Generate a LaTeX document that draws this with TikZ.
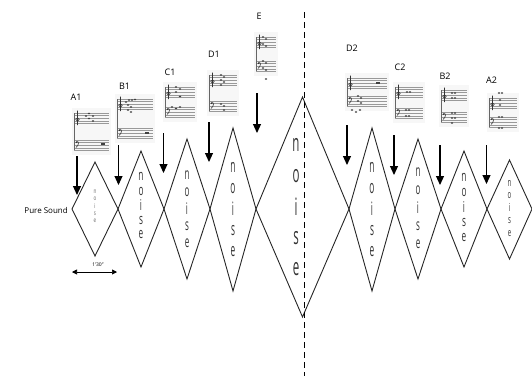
\documentclass[tikz,border=0pt]{standalone}
\usepackage{fontspec}
\usepackage{graphicx}
\setmainfont{Open Sans}
\usetikzlibrary{arrows.meta}

\tikzset{
  flow/.style={-{Triangle[length=9pt,width=8pt]}, line width=1.1pt},
  lab/.style={font=\fontsize{9}{9}\selectfont, inner sep=0pt},
  shell/.style={line width=0.9pt, black!85, line join=miter},
  divide/.style={dash pattern=on 6pt off 4pt, line width=0.8pt},
  staffline/.style={black!40, line width=0.35pt},
  notehead/.style={fill=black!75},
}

% five stacked letters inside a diamond: x, first y, step, size, xscale, colour
\newcommand{\noisecol}[6]{%
  \foreach \ch [count=\k from 0] in {n,o,i,s,e}
    \node[inner sep=0pt, text=#6] at (#1,#2+#3*\k)
      {\raisebox{0pt}[0.7\height][0pt]{\scalebox{#5}[1]{\fontsize{#4}{#4}\selectfont\ch}}};
}

% small grand staff: left x, treble top, bass top, width, note heads
\newcommand{\grandstaff}[5]{%
  \fill[black!3] (#1-2,#2-5) rectangle (#1+#4+2,#3+15);
  \foreach \k in {0,...,4} {
    \draw[staffline] (#1,#2+2.6*\k) -- (#1+#4,#2+2.6*\k);
    \draw[staffline] (#1,#3+2.6*\k) -- (#1+#4,#3+2.6*\k);
  }
  \draw[black!60, line width=0.5pt] (#1,#2) -- (#1,#3+10.4);
  \draw[black!80, line width=0.6pt] (#1+3.5,#2-2.5) -- (#1+3.5,#2+12)
    (#1+3.5,#2+6.5) circle (1.8);
  \draw[black!80, line width=0.6pt] (#1+2.2,#3+2) .. controls (#1+5,#3) and (#1+5.5,#3+5) .. (#1+2,#3+7.5);
  \fill[black!80] (#1+2.5,#3+2.2) circle (0.8);
  \foreach \nx/\ny in {#5}
    \fill[notehead] (\nx,\ny) ellipse (1.3 and 0.9);
}

\begin{document}
\begin{tikzpicture}[x=1pt, y=-1pt]
    \useasboundingbox (0,0) rectangle (532,376);

    % Diamonds
    \foreach \cx/\hw/\up/\dn in {95/23/47/47, 141/23/58/58, 187/23/70/70, 233/23/81/82,
        302.5/46.5/112/108, 372/23/81/82, 418/23/70/70, 464/23/58/58, 509.5/22.5/49/50}
      \draw[shell] (\cx-\hw,209) -- (\cx,209-\up) -- (\cx+\hw,209) -- (\cx,209+\dn) -- cycle;

    % Noise letters
    \noisecol{95}{192}{7.3}{6.5}{0.7}{black!60}
    \noisecol{141}{178}{14.5}{15}{0.55}{black!80}
    \noisecol{187}{176}{17}{16}{0.5}{black!80}
    \noisecol{233}{169}{21}{18.5}{0.45}{black!80}
    \noisecol{296}{147}{31}{24}{0.48}{black!80}
    \noisecol{372}{169}{21}{18.5}{0.45}{black!80}
    \noisecol{418}{173}{18}{16}{0.5}{black!80}
    \noisecol{464}{179}{15}{15}{0.55}{black!80}
    \noisecol{509.5}{184}{12.5}{11}{0.55}{black!80}

    % Middle cut
    \coordinate (cut top) at (304,12);
    \coordinate (cut bot) at (304,376);
    \draw[divide] (cut top) -- (cut bot);

    % Scores
    \grandstaff{74}{113}{140}{35}{86/116, 89/113.5, 89/118.5, 93/116, 93/121}
    \grandstaff{117}{99}{128}{36}{126/102, 129/100, 132/100, 135/99.5, 128/105, 131/107, 128/110, 131/112}
    \grandstaff{165}{87}{107}{30}{176/87, 180/89, 176/92, 180/96.5, 172/107, 176/108.5, 180/107}
    \grandstaff{209}{75}{101}{28}{221/75, 224/77, 221/80, 224/82, 221/85, 221/104, 224/106, 224/110}
    \grandstaff{256}{37}{61}{20}{263/37, 266/39, 263/44, 266/46, 263/61, 266/63, 263/68, 266/70, 266/79}
    \grandstaff{347}{78}{96}{40}{358/96, 361/98, 358/101, 361/103, 352/110, 356/112, 360/110}
    \grandstaff{395}{87}{108}{28}{407/92, 410/92, 406/110, 409/110, 406/116, 409/116}
    \grandstaff{441}{90}{112}{26}{452/93, 455/93, 452/98, 455/98, 452/113, 455/113, 452/118, 455/118, 452/123}
    \grandstaff{489}{98}{117}{28}{499/93, 502/93, 500/100, 500/105, 499/117, 502/117, 499/128, 502/128}
    % rests
    \draw[line width=1.2pt, black!75] (101,144) -- (105,144) (145,133) -- (149,133) (376,83) -- (380,83);

    % Labels
    \node[lab] (lA1) at (76,97) {A1};
    \node[lab] (lB1) at (124.5,86) {B1};
    \node[lab] (lC1) at (170,72) {C1};
    \node[lab] (lD1) at (214,54.5) {D1};
    \node[lab] (lE) at (259,16.5) {E};
    \node[lab] (lD2) at (352,48) {D2};
    \node[lab] (lC2) at (400,67.5) {C2};
    \node[lab] (lB2) at (445,76.5) {B2};
    \node[lab] (lA2) at (491.5,80) {A2};

    % Arrows into the diamonds
    \foreach \n/\x/\ya/\yb in {A1/77/156/195, B1/118.5/145/185, C1/163.5/133/173,
        D1/209/122/162, E/257/93/133, D2/347/125/165, C2/394/135/175,
        B2/440/145/185, A2/486.5/145/184} {
      \coordinate (\n top) at (\x,\ya);
      \coordinate (\n tip) at (\x,\yb);
      \draw[flow] (\n top) -- (\n tip);
    }

    % Pure sound and duration
    \node[anchor=east, inner sep=0pt, font=\fontsize{8}{8}\selectfont] (pure) at (68,210) {Pure Sound};
    \coordinate (dur l) at (72,272);
    \coordinate (dur r) at (117,272);
    \draw[{Triangle[length=5pt,width=5pt]}-{Triangle[length=5pt,width=5pt]}, line width=0.6pt] (dur l) -- (dur r);
    \node[inner sep=0pt, font=\fontsize{5}{5}\selectfont] (dur) at (98,265) {1'30''};
\end{tikzpicture}
\end{document}
